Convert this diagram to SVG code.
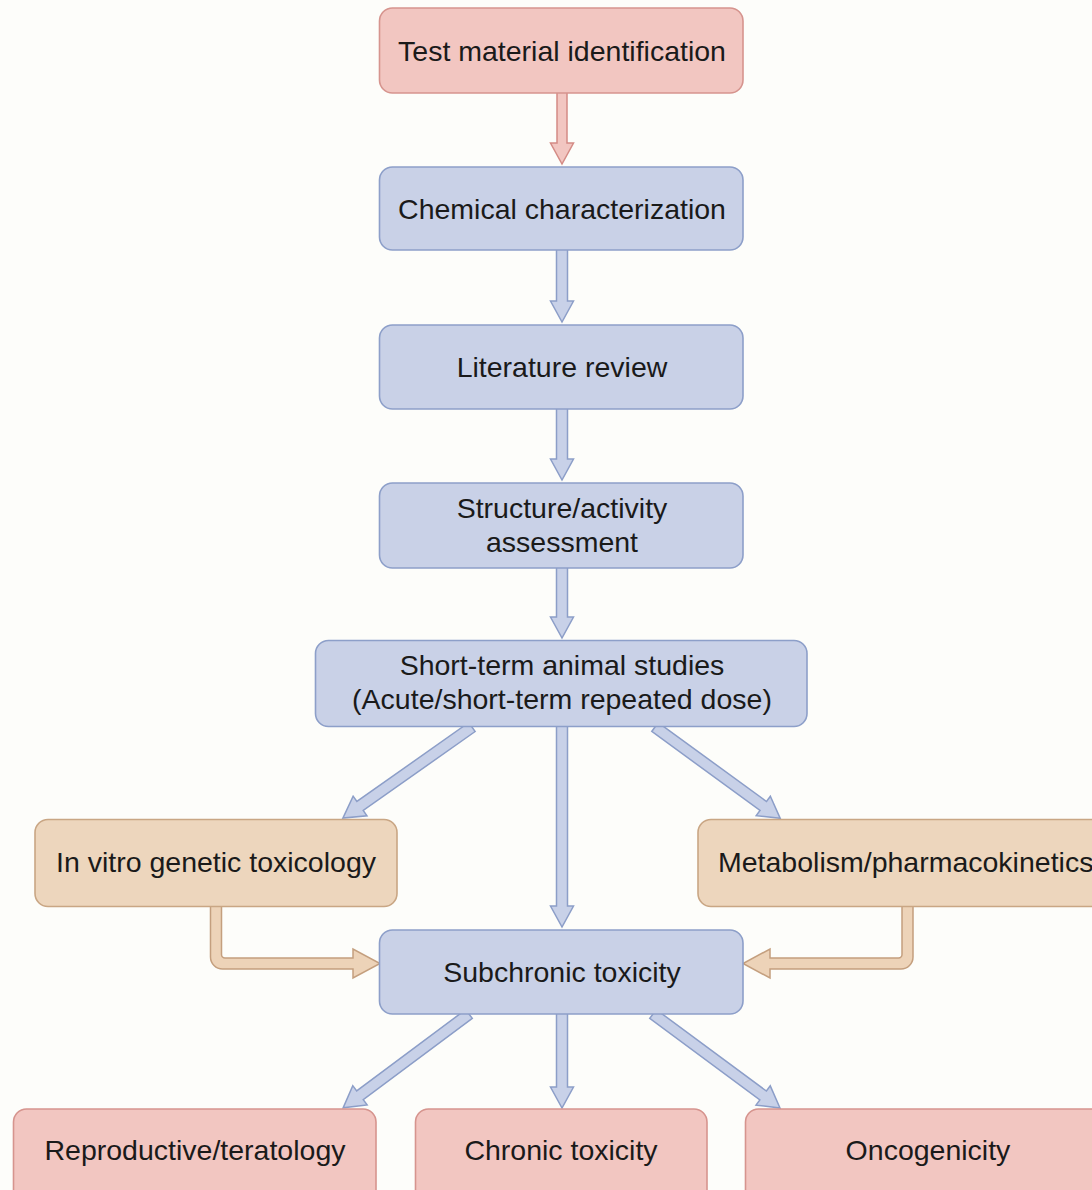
<svg xmlns="http://www.w3.org/2000/svg" width="1092" height="1190" viewBox="0 0 1092 1190">
<style>
  .bg{fill:#fdfdfa}
  .box{stroke-width:1.6}
  .pink{fill:#f2c6c1;stroke:#d6948e}
  .blue{fill:#c9d1e7;stroke:#8d9fc9}
  .tan{fill:#edd6bd;stroke:#c9a684}
  .arB{fill:#c8d1e8;stroke:#8c9ec8;stroke-width:1.5;stroke-linejoin:miter}
  .arR{fill:#f2c6c1;stroke:#d48b85;stroke-width:1.5}
  .arT{fill:#edd3b8;stroke:#c49f7e;stroke-width:1.5}
  text{font-family:"Liberation Sans",Arial,Helvetica,sans-serif;font-size:28.5px;fill:#1a1a1a;text-anchor:middle}
</style>
<rect class="bg" x="0" y="0" width="1092" height="1190"/>
<g id="connectors">
  <path class="arR" d="M557,92 V143 H550.5 L562,164 L573.5,143 H567 V92 Z"/>
  <path class="arB" d="M556.5,249 V301 H550.5 L562,322 L573.5,301 H567.5 V249 Z"/>
  <path class="arB" d="M556.5,408 V459 H550.5 L562,480 L573.5,459 H567.5 V408 Z"/>
  <path class="arB" d="M556.5,567 V617 H550.5 L562,638 L573.5,617 H567.5 V567 Z"/>
  <path class="arB" d="M556.5,726 V906 H550.5 L562,927 L573.5,906 H567.5 V726 Z"/>
  <path class="arB" d="M556.5,1013 V1087 H550.5 L562,1108 L573.5,1087 H567.5 V1013 Z"/>
  <path class="arB" transform="translate(472,727) rotate(144.8)" d="M0,-5.5 H137 V-12 L158,0 L137,12 V5.5 H0 Z"/>
  <path class="arB" transform="translate(655,727) rotate(36.1)" d="M0,-5.5 H134 V-12 L155,0 L134,12 V5.5 H0 Z"/>
  <path class="arB" transform="translate(469,1014) rotate(143.3)" d="M0,-5.5 H136 V-12 L157,0 L136,12 V5.5 H0 Z"/>
  <path class="arB" transform="translate(653,1014) rotate(36.5)" d="M0,-5.5 H137 V-12 L158,0 L137,12 V5.5 H0 Z"/>
  <path class="arT" d="M210.5,905 V957 A12,12 0 0 0 222.5,969 H353 V978 L380,963.5 L353,949 V958 H225 A3.5,3.5 0 0 1 221.5,954.5 V905 Z"/>
  <path class="arT" d="M913,905 V957 A12,12 0 0 1 901,969 H770 V978 L743,963.5 L770,949 V958 H898.5 A3.5,3.5 0 0 0 902,954.5 V905 Z"/>
</g>
<g id="n-test">
  <rect class="box pink" x="379.5" y="8" width="363.5" height="85" rx="13"/>
  <text x="562" y="61">Test material identification</text>
</g>
<g id="n-chem">
  <rect class="box blue" x="379.5" y="167" width="363.5" height="83" rx="13"/>
  <text x="562" y="219">Chemical characterization</text>
</g>
<g id="n-lit">
  <rect class="box blue" x="379.5" y="325" width="363.5" height="84" rx="13"/>
  <text x="562" y="377">Literature review</text>
</g>
<g id="n-sar">
  <rect class="box blue" x="379.5" y="483" width="363.5" height="85" rx="13"/>
  <text x="562" y="518">Structure/activity</text>
  <text x="562" y="552">assessment</text>
</g>
<g id="n-short">
  <rect class="box blue" x="315.5" y="640.5" width="491.5" height="86" rx="13"/>
  <text x="562" y="675">Short-term animal studies</text>
  <text x="562" y="709">(Acute/short-term repeated dose)</text>
</g>
<g id="n-invitro">
  <rect class="box tan" x="35" y="819.5" width="362" height="87" rx="13"/>
  <text x="216" y="872">In vitro genetic toxicology</text>
</g>
<g id="n-metab">
  <rect class="box tan" x="698" y="819.5" width="420" height="87" rx="13"/>
  <text x="718" y="872" style="text-anchor:start">Metabolism/pharmacokinetics</text>
</g>
<g id="n-subchronic">
  <rect class="box blue" x="379.5" y="930" width="363.5" height="84" rx="13"/>
  <text x="562" y="982">Subchronic toxicity</text>
</g>
<g id="n-repro">
  <rect class="box pink" x="13.5" y="1109" width="362.5" height="100" rx="13"/>
  <text x="195" y="1160">Reproductive/teratology</text>
</g>
<g id="n-chronic">
  <rect class="box pink" x="415.5" y="1109" width="291.5" height="100" rx="13"/>
  <text x="561" y="1160">Chronic toxicity</text>
</g>
<g id="n-onco">
  <rect class="box pink" x="745.5" y="1109" width="380" height="100" rx="13"/>
  <text x="928" y="1160">Oncogenicity</text>
</g>
</svg>
